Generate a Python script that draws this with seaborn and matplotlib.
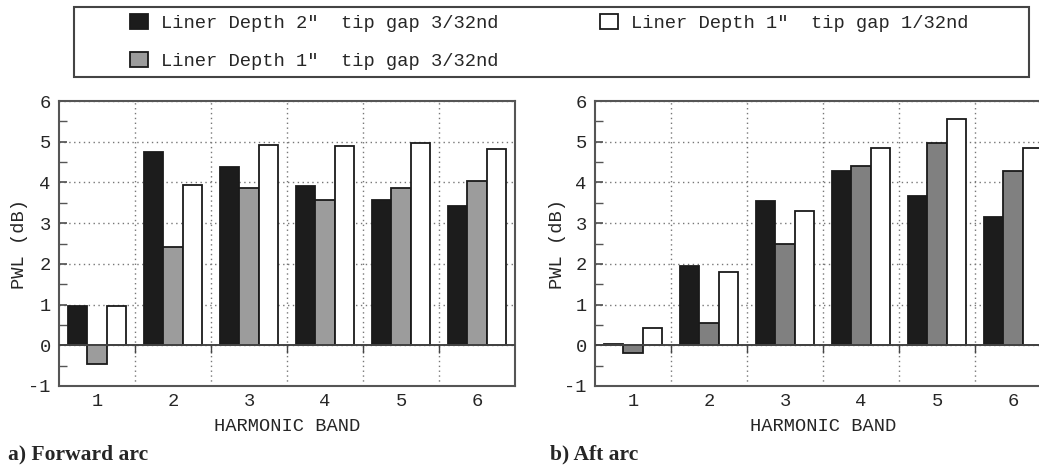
import numpy as np
import pandas as pd
import matplotlib
matplotlib.use("Agg")
import matplotlib.pyplot as plt
import seaborn as sns
from matplotlib.patches import Rectangle, Patch
from matplotlib.ticker import MultipleLocator, FixedLocator

# ---------------- data ----------------
bands = ["1", "2", "3", "4", "5", "6"]
series = ['Liner Depth 2"  tip gap 3/32nd',
          'Liner Depth 1"  tip gap 3/32nd',
          'Liner Depth 1"  tip gap 1/32nd']

fwd_d2_g3 = [0.97, 4.75, 4.38, 3.92, 3.58, 3.43]
fwd_d1_g3 = [-0.46, 2.42, 3.86, 3.58, 3.87, 4.03]
fwd_d1_g1 = [0.97, 3.94, 4.93, 4.90, 4.98, 4.82]

aft_d2_g3 = [0.04, 1.94, 3.55, 4.29, 3.67, 3.16]
aft_d1_g3 = [-0.20, 0.54, 2.48, 4.41, 4.97, 4.28]
aft_d1_g1 = [0.42, 1.80, 3.31, 4.84, 5.55, 4.84]

captions = ["a) Forward arc", "b) Aft arc"]
x_label = "HARMONIC BAND"
y_label = "PWL (dB)"
y_ticks = [-1, 0, 1, 2, 3, 4, 5, 6]


def long_df(a, b, c):
    rows = []
    for s, vals in zip(series, [a, b, c]):
        for band, v in zip(bands, vals):
            rows.append({"band": band, "series": s, "value": v})
    return pd.DataFrame(rows)


df_fwd = long_df(fwd_d2_g3, fwd_d1_g3, fwd_d1_g1)
df_aft = long_df(aft_d2_g3, aft_d1_g3, aft_d1_g1)

# ---------------- style ----------------
sns.set_theme(style="white")
MONO = "Liberation Mono"
plt.rcParams["font.family"] = [MONO, "DejaVu Sans"]
plt.rcParams["axes.unicode_minus"] = False

W, H = 1039, 468
fig = plt.figure(figsize=(W / 100, H / 100), dpi=100)

black = "#1c1c1c"
pal_fwd = [black, "#9c9c9c", "#ffffff"]
pal_aft = [black, "#808080", "#ffffff"]


def px_axes(left, top, right, bottom):
    return fig.add_axes([left / W, 1 - bottom / H, (right - left) / W, (bottom - top) / H])


ax1 = px_axes(59, 101, 515, 386)
ax2 = px_axes(595, 101, 1051, 386)

fs = 13.5
for ax, df, pal, cap, capx, ylx in [
        (ax1, df_fwd, pal_fwd, captions[0], 8, 20),
        (ax2, df_aft, pal_aft, captions[1], 550, 557)]:
    sns.barplot(data=df, x="band", y="value", hue="series", order=bands,
                hue_order=series, palette=pal, width=0.76, gap=0,
                edgecolor="#1a1a1a", linewidth=1.3, errorbar=None,
                legend=False, ax=ax, saturation=1, zorder=3)
    ax.set_xlim(-0.5, len(bands) - 0.5)
    ax.set_ylim(-1, 6)
    ax.set_yticks(y_ticks)
    ax.yaxis.set_minor_locator(MultipleLocator(0.5))
    dividers = [i + 0.5 for i in range(len(bands) - 1)]
    ax.xaxis.set_minor_locator(FixedLocator(dividers))
    ax.grid(True, which="major", axis="y", color="#777777",
            linestyle=(0, (1, 2.5)), linewidth=1.0, zorder=0)
    ax.grid(True, which="minor", axis="x", color="#777777",
            linestyle=(0, (1, 2.5)), linewidth=1.0, zorder=0)
    ax.set_axisbelow(True)
    ax.axhline(0, color="#444444", linewidth=1.4, zorder=4)
    ax.vlines(dividers, -0.2, 0, color="#444444", linewidth=1.0, zorder=4)
    ax.tick_params(axis="y", which="both", direction="in", left=True,
                   right=False, color="#555555", labelsize=fs)
    ax.tick_params(axis="y", which="major", length=6, pad=6)
    ax.tick_params(axis="y", which="minor", length=6)
    ax.tick_params(axis="x", which="both", length=0, labelsize=fs, pad=5)
    for sp in ax.spines.values():
        sp.set_color("#555555")
        sp.set_linewidth(1.5)
    ax.set_xlabel(x_label, fontsize=fs, labelpad=6)
    ax.set_ylabel("")
    fig.text(ylx / W, 1 - 244 / H, y_label, rotation=90, ha="center",
             va="center", fontsize=fs)
    fig.text(capx / W, 1 - 454 / H, cap, ha="left", va="center",
             fontsize=15.5, fontweight="bold",
             family=["Liberation Serif", "DejaVu Serif"])

# ---------------- legend ----------------
frame = Rectangle((74 / W, 1 - 77 / H), (1029 - 74) / W, (77 - 7) / H,
                  transform=fig.transFigure, fill=False,
                  edgecolor="#444444", linewidth=1.5)
fig.patches.append(frame)

handles = [Patch(facecolor=c, edgecolor="#1a1a1a", linewidth=1.3)
           for c in pal_fwd]
fig.legend(handles, series, loc="upper left",
           bbox_to_anchor=(130 / W, 1 - 14 / H), ncol=2, frameon=False,
           borderpad=0, borderaxespad=0, fontsize=fs,
           handlelength=0.95, handleheight=0.85, handletextpad=0.7,
           columnspacing=5.4, labelspacing=1.05)

fig.savefig("out.png", dpi=100)
